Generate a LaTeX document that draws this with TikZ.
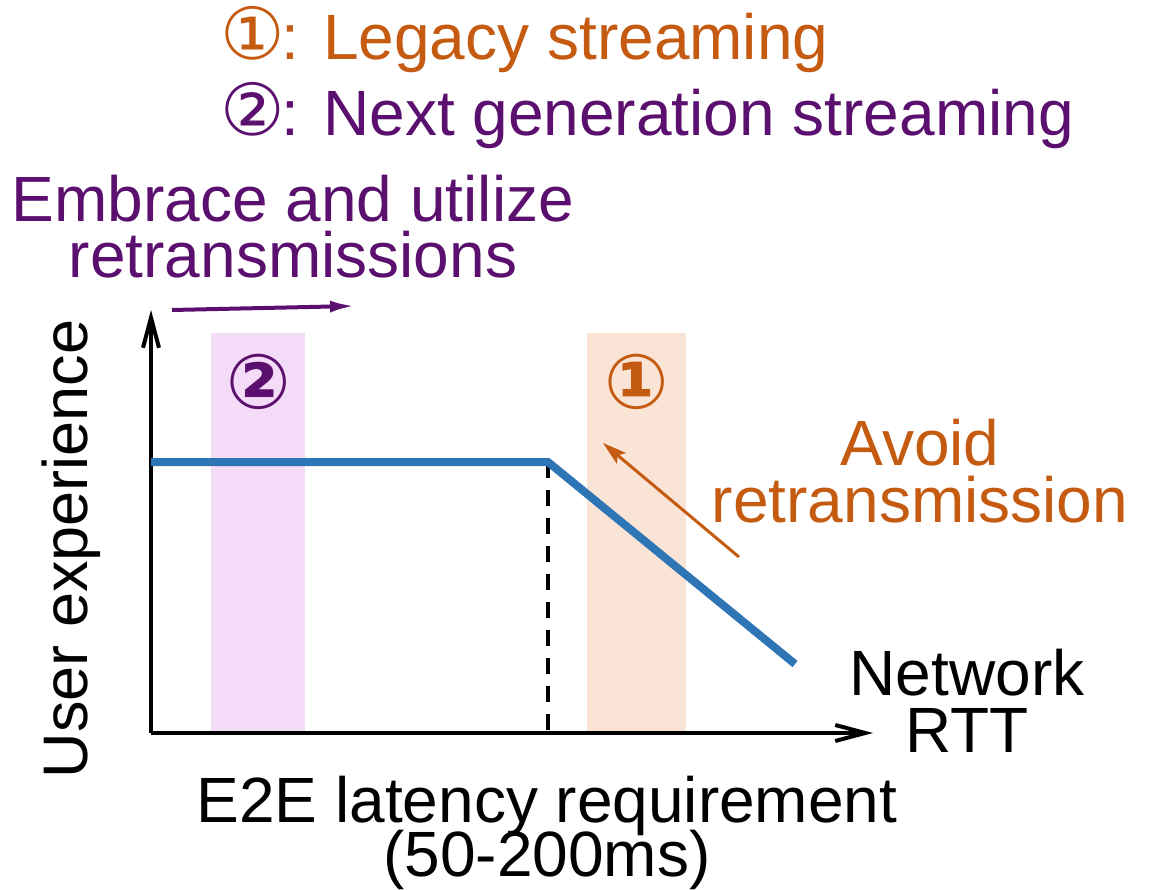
\documentclass[tikz,border=0pt]{standalone}
\usepackage{fontspec}
\setmainfont{Liberation Sans}
\newfontfamily\circfont{DejaVu Sans}
\usetikzlibrary{arrows.meta}
\definecolor{orng}{RGB}{197,90,17}
\definecolor{purp}{RGB}{91,15,110}
\definecolor{bandp}{RGB}{244,220,249}
\definecolor{bando}{RGB}{250,228,214}
\definecolor{blueline}{RGB}{46,117,182}
\tikzset{
  lbl/.style={inner sep=0pt, anchor=base, font=\fontsize{64}{64}\selectfont},
  circ/.style={inner sep=0pt, font=\circfont\bfseries\fontsize{76}{76}\selectfont},
  axis/.style={line width=4pt, -{Straight Barb[length=30pt,width=16pt,line width=4pt]}},
}
\begin{document}
\begin{tikzpicture}[x=1pt,y=-1pt]
\useasboundingbox (0,0) rectangle (1158,890);
% bands
\fill[bandp] (211,333) rectangle (305,733);
\fill[bando] (587,333) rectangle (686,733);
\node[circ, text=purp] (c2) at (259,382) {②};
\node[circ, text=orng] (c1) at (637,382) {①};
% coordinates
\coordinate (O) at (151,733);
\coordinate (ytip) at (151,310);
\coordinate (xtip) at (873,733);
\coordinate (b0) at (151,462);
\coordinate (b1) at (548,462);
\coordinate (b2) at (795,664);
\coordinate (d0) at (548,733);
% dashed
\draw[line width=3.5pt, dash pattern=on 16pt off 12pt] (b1) -- (d0);
% axes
\draw[axis] (O) -- (ytip);
\draw[axis] (O) -- (xtip);
% curve
\draw[blueline, line width=8pt] (b0) -- (b1) -- (b2);
% arrows
\coordinate (pa0) at (172,310);
\coordinate (pa1) at (355,306);
\draw[purp, line width=4pt, -{Latex[length=25pt,width=12pt]}] (pa0) -- (pa1);
\coordinate (oa0) at (739,557);
\coordinate (oa1) at (603,443);
\draw[orng, line width=3pt, -{Stealth[length=24pt,width=14pt,inset=5pt]}] (oa0) -- (oa1);
% title
\node[lbl, anchor=base west, text=orng] (t1) at (220,60) {{\circfont\fontsize{72}{72}\selectfont ①}\kern-3pt: Legacy streaming};
\node[lbl, anchor=base west, text=purp] (t2) at (220,136) {{\circfont\fontsize{72}{72}\selectfont ②}\kern-3pt: Next generation streaming};
% labels
\node[lbl, text=purp] (e1) at (293,222) {Embrace and utilize};
\node[lbl, text=purp] (e2) at (293,278) {retransmissions};
\node[lbl, text=orng] (a1) at (920,465) {Avoid};
\node[lbl, text=orng] (a2) at (920,522) {retransmission};
\node[lbl] (n1) at (967,695) {Network};
\node[lbl] (n2) at (967,752) {RTT};
\node[lbl] (l1) at (547,822) {E2E latency requirement};
\node[lbl] (l2) at (547,876) {(50-200ms)};
\node[lbl, rotate=90, font=\fontsize{63}{63}\selectfont] (ux) at (87,549) {User experience};
\end{tikzpicture}
\end{document}
